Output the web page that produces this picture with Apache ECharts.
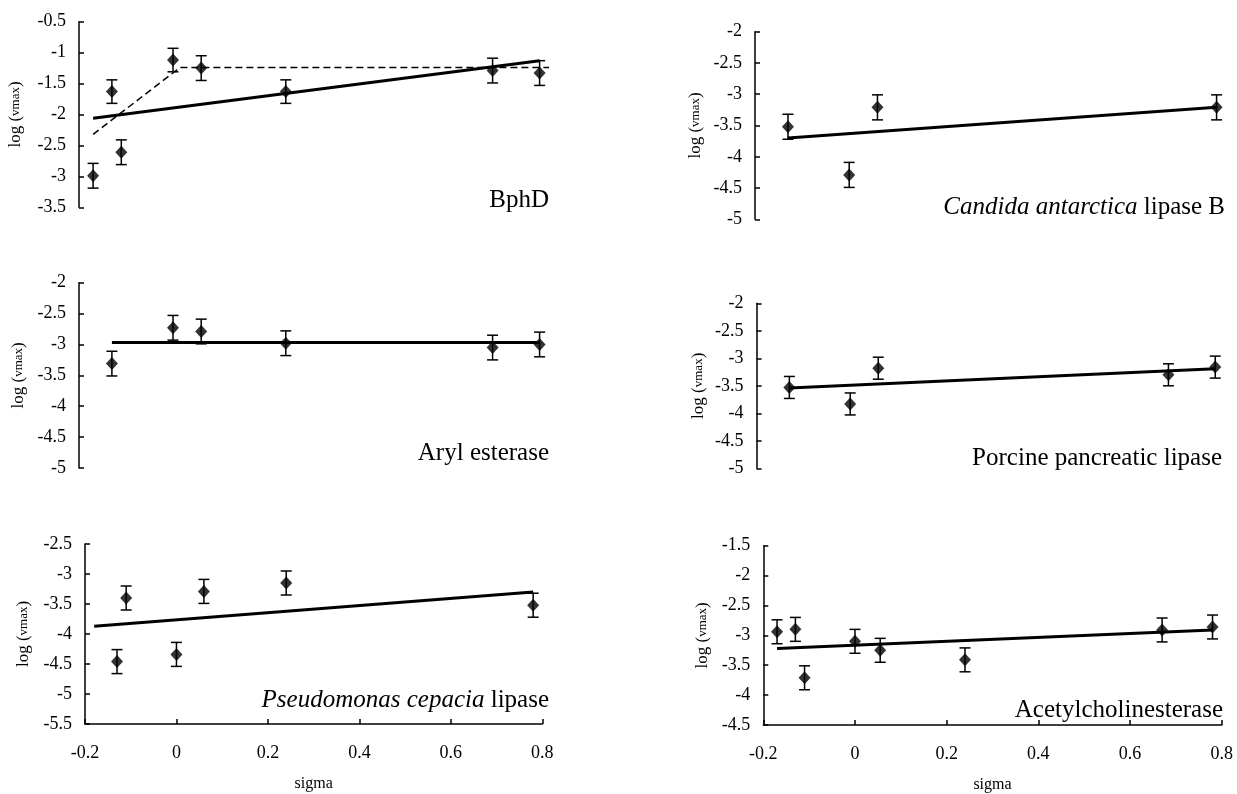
<!DOCTYPE html>
<html>
<head>
<meta charset="utf-8">
<script src="https://cdn.jsdelivr.net/npm/echarts@6/dist/echarts.min.js"></script>
<style>
  html, body { margin: 0; padding: 0; background: #fff; }
  #chart { width: 1237px; height: 794px; }
</style>
</head>
<body>
<div id="chart"></div>
<script>
// readings: sigma (x), log(vmax) (y), half height of each error bar
const bphdSigma = [-0.17, -0.13, -0.11, 0, 0.06, 0.24, 0.68, 0.78];
const bphdLogV = [-2.99, -1.63, -2.61, -1.12, -1.25, -1.63, -1.29, -1.33];
const bphdErr = [0.2, 0.19, 0.2, 0.19, 0.2, 0.19, 0.2, 0.2];
const bphdFitSigma = [-0.17, 0.78];
const bphdFitLogV = [-2.06, -1.13];
const bphdBreakSigma = [-0.17, 0.015, 0.8];
const bphdBreakLogV = [-2.32, -1.24, -1.24];

const calbSigma = [-0.13, 0, 0.06, 0.78];
const calbLogV = [-3.52, -4.29, -3.21, -3.21];
const calbErr = [0.2, 0.2, 0.2, 0.2];
const calbFitSigma = [-0.13, 0.78];
const calbFitLogV = [-3.70, -3.21];

const arylSigma = [-0.13, 0, 0.06, 0.24, 0.68, 0.78];
const arylLogV = [-3.31, -2.73, -2.79, -2.98, -3.05, -3.00];
const arylErr = [0.2, 0.2, 0.2, 0.2, 0.2, 0.2];
const arylFitSigma = [-0.13, 0.78];
const arylFitLogV = [-2.97, -2.97];

const pplSigma = [-0.13, 0, 0.06, 0.68, 0.78];
const pplLogV = [-3.53, -3.83, -3.18, -3.30, -3.16];
const pplErr = [0.2, 0.2, 0.2, 0.2, 0.2];
const pplFitSigma = [-0.13, 0.78];
const pplFitLogV = [-3.54, -3.19];

const pclSigma = [-0.13, -0.11, 0, 0.06, 0.24, 0.78];
const pclLogV = [-4.46, -3.40, -4.34, -3.29, -3.15, -3.52];
const pclErr = [0.2, 0.2, 0.2, 0.2, 0.2, 0.2];
const pclFitSigma = [-0.18, 0.78];
const pclFitLogV = [-3.87, -3.30];

const acheSigma = [-0.17, -0.13, -0.11, 0, 0.055, 0.24, 0.67, 0.78];
const acheLogV = [-2.94, -2.90, -3.71, -3.10, -3.25, -3.41, -2.91, -2.86];
const acheErr = [0.2, 0.2, 0.2, 0.2, 0.2, 0.2, 0.2, 0.2];
const acheFitSigma = [-0.17, 0.78];
const acheFitLogV = [-3.22, -2.91];

const sigmaTicks = { min: -0.2, max: 0.8, interval: 0.2 };

const panels = [
  { title: 'BphD', sigma: bphdSigma, logv: bphdLogV, err: bphdErr, fitX: bphdFitSigma, fitY: bphdFitLogV,
    dashX: bphdBreakSigma, dashY: bphdBreakLogV, yMin: -3.5, yMax: -0.5 },
  { title: '{i|Candida antarctica} lipase B', sigma: calbSigma, logv: calbLogV, err: calbErr,
    fitX: calbFitSigma, fitY: calbFitLogV, yMin: -5, yMax: -2 },
  { title: 'Aryl esterase', sigma: arylSigma, logv: arylLogV, err: arylErr,
    fitX: arylFitSigma, fitY: arylFitLogV, yMin: -5, yMax: -2 },
  { title: 'Porcine pancreatic lipase', sigma: pplSigma, logv: pplLogV, err: pplErr,
    fitX: pplFitSigma, fitY: pplFitLogV, yMin: -5, yMax: -2 },
  { title: '{i|Pseudomonas cepacia} lipase', sigma: pclSigma, logv: pclLogV, err: pclErr,
    fitX: pclFitSigma, fitY: pclFitLogV, yMin: -5.5, yMax: -2.5 },
  { title: 'Acetylcholinesterase', sigma: acheSigma, logv: acheLogV, err: acheErr,
    fitX: acheFitSigma, fitY: acheFitLogV, yMin: -4.5, yMax: -1.5 }
];

// where each panel sits on the page
const layouts = [
  { left: 79, top: 21.7, width: 470, height: 185.6, showX: false, nameGap: 55, titleRight: 688, titleTop: 187 },
  { left: 755, top: 31.7, width: 471, height: 187.6, showX: false, nameGap: 51, titleRight: 12, titleTop: 194 },
  { left: 79, top: 282.7, width: 470, height: 185.3, showX: false, nameGap: 52, titleRight: 688, titleTop: 440 },
  { left: 756.6, top: 303.3, width: 468, height: 165, showX: false, nameGap: 50, titleRight: 15, titleTop: 445 },
  { left: 85, top: 544, width: 457.3, height: 180, showX: true, nameGap: 53, titleRight: 688, titleTop: 687 },
  { left: 763.3, top: 545.7, width: 458.4, height: 181, showX: true, nameGap: 52, titleRight: 14, titleTop: 697 }
];

const FONT = '"Liberation Serif", "Times New Roman", serif';

function errorItem(params, api) {
  const x = api.value(0);
  const lo = api.coord([x, api.value(1)]);
  const hi = api.coord([x, api.value(2)]);
  const w = 5.5;
  const style = { stroke: '#000', lineWidth: 1.5 };
  return {
    type: 'group',
    children: [
      { type: 'line', shape: { x1: lo[0], y1: lo[1], x2: hi[0], y2: hi[1] }, style },
      { type: 'line', shape: { x1: lo[0] - w, y1: lo[1], x2: lo[0] + w, y2: lo[1] }, style },
      { type: 'line', shape: { x1: hi[0] - w, y1: hi[1], x2: hi[0] + w, y2: hi[1] }, style }
    ]
  };
}

const grid = [], xAxis = [], yAxis = [], series = [], title = [];

panels.forEach((p, i) => {
  const l = layouts[i];
  grid.push({ left: l.left, top: l.top, width: l.width, height: l.height });

  xAxis.push({
    type: 'value', gridIndex: i, show: l.showX,
    min: sigmaTicks.min, max: sigmaTicks.max, interval: sigmaTicks.interval,
    name: 'sigma', nameLocation: 'middle', nameGap: 52,
    nameTextStyle: { fontFamily: FONT, fontSize: 16, color: '#000' },
    axisLine: { onZero: false, lineStyle: { color: '#000', width: 1.5 } },
    axisTick: { inside: true, length: 5, lineStyle: { color: '#000', width: 1.5 } },
    axisLabel: { margin: 20, fontFamily: FONT, fontSize: 18, color: '#000' },
    splitLine: { show: false }
  });

  yAxis.push({
    type: 'value', gridIndex: i,
    min: p.yMin, max: p.yMax, interval: 0.5,
    name: '{a|log (}{b|vmax}{a|)}', nameLocation: 'middle', nameGap: l.nameGap,
    nameTextStyle: {
      color: '#000',
      rich: {
        a: { fontFamily: FONT, fontSize: 17, color: '#000' },
        b: { fontFamily: FONT, fontSize: 13, color: '#000' }
      }
    },
    axisLine: { show: true, onZero: false, lineStyle: { color: '#000', width: 1.5 } },
    axisTick: { show: true, inside: true, length: 5, lineStyle: { color: '#000', width: 1.5 } },
    axisLabel: { margin: 13, fontFamily: FONT, fontSize: 18, color: '#000' },
    splitLine: { show: false }
  });

  title.push({
    text: p.title, right: l.titleRight, top: l.titleTop, padding: 0,
    textStyle: {
      fontFamily: FONT, fontSize: 25, fontWeight: 'normal', color: '#000', lineHeight: 26,
      rich: { i: { fontFamily: FONT, fontSize: 25, fontStyle: 'italic', color: '#000', lineHeight: 26 } }
    }
  });

  series.push({
    type: 'line', xAxisIndex: i, yAxisIndex: i, symbol: 'none', z: 2,
    lineStyle: { color: '#000', width: 3 },
    data: p.fitX.map((x, k) => [x, p.fitY[k]])
  });

  if (p.dashX) {
    series.push({
      type: 'line', xAxisIndex: i, yAxisIndex: i, symbol: 'none', z: 2,
      lineStyle: { color: '#000', width: 1.5, type: [7, 4] },
      data: p.dashX.map((x, k) => [x, p.dashY[k]])
    });
  }

  series.push({
    type: 'custom', xAxisIndex: i, yAxisIndex: i, z: 3,
    renderItem: errorItem,
    encode: { x: 0, y: [1, 2] },
    data: p.sigma.map((x, k) => [x, p.logv[k] - p.err[k], p.logv[k] + p.err[k]])
  });

  series.push({
    type: 'scatter', xAxisIndex: i, yAxisIndex: i, z: 4,
    symbol: 'diamond', symbolSize: [12, 13],
    itemStyle: { color: '#000' },
    data: p.sigma.map((x, k) => [x, p.logv[k]])
  });
});

const chart = echarts.init(document.getElementById('chart'));
chart.setOption({
  animation: false,
  backgroundColor: '#fff',
  title, grid, xAxis, yAxis, series
});
</script>
</body>
</html>
